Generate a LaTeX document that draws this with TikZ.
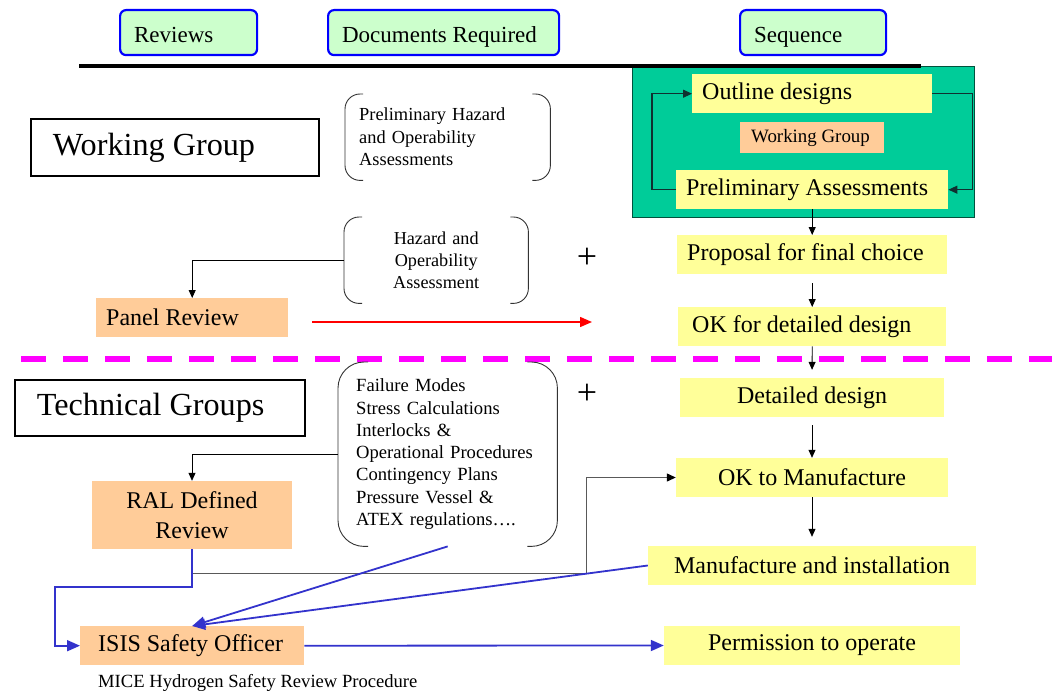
\documentclass[tikz,border=0pt]{standalone}
\usepackage{fontspec}
\setmainfont{Liberation Serif}
\usetikzlibrary{arrows.meta,calc}
\definecolor{seqyellow}{HTML}{FFFF99}
\definecolor{revorange}{HTML}{FFCC99}
\definecolor{hdrgreen}{HTML}{CCFFCC}
\definecolor{wgteal}{HTML}{00CC99}
\definecolor{linkblue}{HTML}{3333CC}
\definecolor{hdrblue}{HTML}{0000FF}
\definecolor{dashmag}{HTML}{FF00FF}
\definecolor{loopdark}{HTML}{103030}
\newcommand{\lfit}[2]{\makebox[#1][l]{#2}}
\newcommand{\fs}[2]{\fontsize{#1}{#2}\selectfont}
\newcommand{\brk}[3]{%
  \draw[brkline,rounded corners=#2] ($(#1.north west)+(#3,0)$) -- (#1.north west) -- (#1.south west) -- ($(#1.south west)+(#3,0)$);
  \draw[brkline,rounded corners=#2] ($(#1.north east)-(#3,0)$) -- (#1.north east) -- (#1.south east) -- ($(#1.south east)-(#3,0)$);}
\begin{document}
\begin{tikzpicture}[x=1pt,y=-1pt,
  hdr/.style={draw=hdrblue, line width=2.2pt, fill=hdrgreen, rounded corners=6pt, inner ysep=0pt, inner xsep=14pt, anchor=north west, text height=21pt, text depth=2pt, font=\fs{23}{27}},
  seqbox/.style={fill=seqyellow, inner ysep=0pt, minimum height=39pt, font=\fs{24}{28}},
  revbox/.style={fill=revorange, inner ysep=0pt, minimum height=39pt, font=\fs{24}{28}},
  grpbox/.style={draw=black, line width=1.8pt, inner ysep=0pt, inner xsep=22pt, anchor=north west, font=\fs{32.2}{37}},
  docbox/.style={inner sep=0pt, anchor=north west},
  brkline/.style={draw=black!80, line width=0.9pt},
  blk/.style={draw=black, line width=0.8pt, -{Triangle[length=8pt,width=7pt]}},
  loopline/.style={draw=loopdark, line width=1.1pt, -{Triangle[length=9pt,width=8pt]}},
  bluearr/.style={draw=linkblue, line width=1.8pt, -{Triangle[length=13pt,width=11pt]}},
  redarr/.style={draw=red, line width=1.5pt, -{Triangle[length=12pt,width=10pt]}},
  grayline/.style={draw=black!65, line width=1.2pt, -{Triangle[length=9pt,width=8pt]}, arrows={[color=black]}},
]
\useasboundingbox (0,0) rectangle (1052,693);

% headers
\node[hdr, minimum height=45pt] (hrev) at (119,9) {\lfit{109pt}{Reviews}};
\node[hdr, minimum height=45pt] (hdoc) at (327,9) {\lfit{203pt}{Documents Required}};
\node[hdr, minimum height=45pt] (hseq) at (739,9) {\lfit{118pt}{Sequence}};

% working group area (green)
\node[draw=black!60!wgteal, fill=wgteal, line width=1.2pt, anchor=north west, minimum width=342pt, minimum height=151pt, inner sep=0pt] (wgarea) at (632,66) {};
\draw[line width=4pt] (79,66) -- (921,66);

\node[seqbox, anchor=north west, inner xsep=10pt] (outline) at (692,74) {\lfit{220pt}{Outline designs}};
\node[fill=revorange, inner ysep=0pt, inner xsep=11pt, minimum height=31pt, anchor=north west, font=\fs{18.9}{22}] (wgsmall) at (740,122) {\lfit{122pt}{Working Group}};
\node[seqbox, anchor=north west, inner xsep=10pt] (prelim) at (676,170) {\lfit{252pt}{Preliminary Assessments}};
\draw[loopline] (prelim.west) -- ++(-24,0) |- (outline.west);
\draw[loopline] (outline.east) -- ++(40,0) |- (prelim.east);

% sequence
\node[seqbox, anchor=north west, inner xsep=10pt] (proposal) at (677,235) {\lfit{250pt}{Proposal for final choice}};
\node[seqbox, anchor=north west, inner xsep=14pt] (okdd) at (678,307) {\lfit{240pt}{OK for detailed design}};
\node[seqbox, minimum width=264pt] (detailed) at (812,397.5) {Detailed design};
\node[seqbox, minimum width=272pt] (okman) at (812,477.5) {OK to Manufacture};
\node[seqbox, minimum width=328pt] (mfg) at (812,565.5) {Manufacture and installation};
\node[seqbox, minimum width=296pt] (perm) at (812,645.5) {Permission to operate};

\draw[blk] (prelim.south) -- (proposal.north);
\draw[blk, shorten <=9pt] (proposal.south) -- (okdd.north);
\draw[blk, shorten >=8pt] (okdd.south) -- (detailed.north);
\draw[blk, shorten <=8pt] (detailed.south) -- (okman.north);
\draw[blk, shorten >=9pt] (okman.south) -- (mfg.north);

% dashed divider
\draw[dashmag, line width=6.5pt, dash pattern=on 25pt off 17pt] (21,359) -- (1052,359);

% left groups
\node[grpbox, minimum height=57pt] (wgbig) at (30,118) {\lfit{244pt}{Working Group}};
\node[grpbox, minimum height=56pt] (tech) at (14,379) {\lfit{246pt}{Technical Groups}};

% documents
\node[docbox, minimum width=205pt, minimum height=86pt, inner xsep=14pt, text width=177pt, align=left, font=\fs{18.4}{22.5}] (phazop) at (345,94) {Preliminary Hazard\\and Operability\\Assessments};
\brk{phazop}{15pt}{18pt}
\node[docbox, minimum width=184pt, minimum height=86pt, text width=184pt, align=center, font=\fs{18.2}{22}] (hazop) at (344,217) {Hazard and\\Operability\\Assessment};
\brk{hazop}{15pt}{18pt}
\node[docbox, minimum width=219pt, minimum height=184pt, inner xsep=18pt, text width=183pt, align=left, font=\fs{18.6}{22.3}] (fail) at (338,362) {Failure Modes\\Stress Calculations\\Interlocks \&\\\mbox{Operational Procedures}\\Contingency Plans\\Pressure Vessel \&\\ATEX regulations\dots.};
\brk{fail}{26pt}{30pt}

\node[font=\fs{36}{40}, inner sep=0pt] (plus1) at (587,258) {+};
\node[font=\fs{36}{40}, inner sep=0pt] (plus2) at (587,394) {+};

% reviews
\node[revbox, anchor=north west, inner xsep=10pt] (panel) at (96,298) {\lfit{172pt}{Panel Review}};
\node[fill=revorange, inner sep=0pt, minimum width=200pt, minimum height=68pt, align=center, font=\fs{24}{30}] (ral) at (192,515) {RAL Defined\\Review};
\node[revbox, anchor=north west, inner xsep=18pt] (isis) at (80,626) {\lfit{188pt}{ISIS Safety Officer}};

\draw[blk] (hazop.west) -| (panel.north);
\draw[blk] (fail.west) -| (ral.north);

\coordinate (redstart) at (312,322);
\coordinate (redend) at (592,322);
\draw[redarr] (redstart) -- (redend);

\draw[grayline] ($(ral.south)+(0,24)$) -| ($(okman.west)+(-89,0)$) -- (okman.west);
\draw[bluearr] (ral.south) -- ++(0,38) -| ($(isis.west)+(-25,0)$) -- (isis.west);
\draw[bluearr] (fail.south) -- (isis.north);
\draw[bluearr] (mfg.west) -- (isis.north);
\draw[bluearr] (isis.east) -- (perm.west);

\node[anchor=west, inner sep=0pt, font=\fs{18.6}{21}] (cap) at (98,683) {MICE Hydrogen Safety Review Procedure};
\end{tikzpicture}
\end{document}
